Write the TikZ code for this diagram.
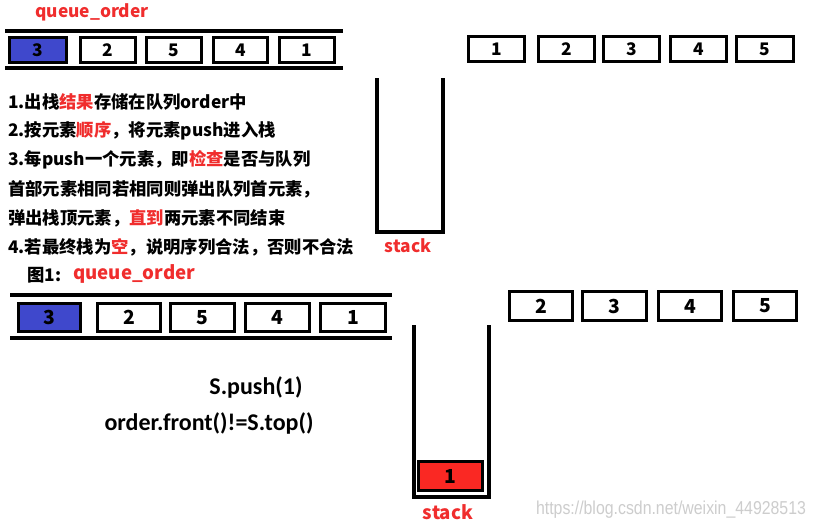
\documentclass[tikz,border=0pt]{standalone}
\usepackage{fontspec}
\setmainfont{Noto Sans CJK SC}
\newfontfamily\calib{Carlito}
\newfontfamily\wmfont{Liberation Sans}
\definecolor{hlred}{RGB}{240,45,45}
\definecolor{qblue}{RGB}{63,72,204}
\definecolor{sred}{RGB}{250,40,35}
\definecolor{wmgray}{RGB}{205,205,205}
\newcommand\hl[1]{\textcolor{hlred}{#1}}
\newcommand\qbox[7]{%
  \pgfmathsetmacro\bw{(#4-#2-3)*0.75}%
  \pgfmathsetmacro\bh{(#5-#3-3)*0.75}%
  \node[#6, minimum width=\bw pt, minimum height=\bh pt] (#1) at ({(#2+#4)/2},{(#3+#5)/2}) {#7};}
\begin{document}
\begin{tikzpicture}[x=0.75pt,y=-0.75pt,
  cell/.style={draw=black, line width=2.2pt, fill=white, inner sep=0pt, font=\bfseries\fontsize{13}{13}\selectfont},
  bigcell/.style={cell, font=\bfseries\fontsize{14.5}{14.5}\selectfont},
  bluecell/.style={cell, fill=qblue},
  bigbluecell/.style={bigcell, fill=qblue},
  redcell/.style={bigcell, fill=sred},
  rail/.style={line width=2.4pt, line cap=butt},
  wall/.style={line width=2.4pt, line join=miter},
  title/.style={text=hlred, font=\bfseries\fontsize{13}{13}\selectfont, inner sep=0pt},
  txt/.style={anchor=west, inner sep=0pt, font=\bfseries\fontsize{13}{13}\selectfont},
  code/.style={inner sep=0pt, font=\calib\bfseries\fontsize{18}{18}\selectfont}
]
\useasboundingbox (0,0) rectangle (816,528);
\fill[white] (0,0) rectangle (816,528);

% ---------- top section ----------
\node[title] (t1) at (92,12) {queue\_order};
\draw[rail] (5,31) -- (343,31);
\draw[rail] (5,68) -- (343,68);
\qbox{a3}{8}{36}{68}{64}{bluecell}{3}
\qbox{a2}{79}{36}{137}{64}{cell}{2}
\qbox{a5}{145}{36}{203}{64}{cell}{5}
\qbox{a4}{212}{36}{269}{64}{cell}{4}
\qbox{a1}{278}{36}{336}{64}{cell}{1}

\draw[wall] (377,78) -- (377,232) -- (443,232) -- (443,78);
\node[title] (s1) at (408,246) {stack};

\qbox{b1}{467}{35}{526}{63}{cell}{1}
\qbox{b2}{537}{35}{596}{63}{cell}{2}
\qbox{b3}{602}{35}{661}{63}{cell}{3}
\qbox{b4}{669}{35}{728}{63}{cell}{4}
\qbox{b5}{735}{35}{795}{63}{cell}{5}

\node[txt] (l1) at (8,102) {1.出栈\hl{结果}存储在队列order中};
\node[txt] (l2) at (8,131) {2.按元素\hl{顺序}，将元素push进入栈};
\node[txt] (l3) at (8,160) {3.每push一个元素，即\hl{检查}是否与队列};
\node[txt] (l4) at (8,189) {首部元素相同若相同则弹出队列首元素，};
\node[txt] (l5) at (8,218) {弹出栈顶元素，\hl{直到}两元素不同结束};
\node[txt] (l6) at (8,247) {4.若最终栈为\hl{空}，说明序列合法，否则不合法};

% ---------- bottom section ----------
\node[txt] (f1) at (27,275) {图1:};
\node[title, anchor=west, font=\bfseries\fontsize{14}{14}\selectfont] (t2) at (73,274) {queue\_order};
\draw[rail] (10,295) -- (392,295);
\draw[rail] (10,338) -- (392,338);
\qbox{c3}{17}{302}{82}{333}{bigbluecell}{3}
\qbox{c2}{96}{302}{162}{333}{bigcell}{2}
\qbox{c5}{169}{302}{236}{333}{bigcell}{5}
\qbox{c4}{244}{302}{311}{333}{bigcell}{4}
\qbox{c1}{319}{302}{387}{333}{bigcell}{1}

\draw[wall] (414,325) -- (414,497) -- (489,497) -- (489,325);
\qbox{sr}{417}{460}{484}{492}{redcell}{1}
\node[title, font=\bfseries\fontsize{14}{14}\selectfont] (s2) at (448,512) {stack};

\qbox{d2}{508}{290}{574}{322}{bigcell}{2}
\qbox{d3}{581}{290}{648}{322}{bigcell}{3}
\qbox{d4}{657}{290}{723}{322}{bigcell}{4}
\qbox{d5}{732}{290}{798}{322}{bigcell}{5}

\node[code] (p1) at (256,387) {S.push(1)};
\node[code] (p2) at (209,423) {order.front()!=S.top()};

\node[inner sep=0pt, text=wmgray, font=\wmfont\fontsize{14}{14}\selectfont] (wm) at (671,510) {\scalebox{0.85}[1]{https://blog.csdn.net/weixin\_44928513}};
\end{tikzpicture}
\end{document}
